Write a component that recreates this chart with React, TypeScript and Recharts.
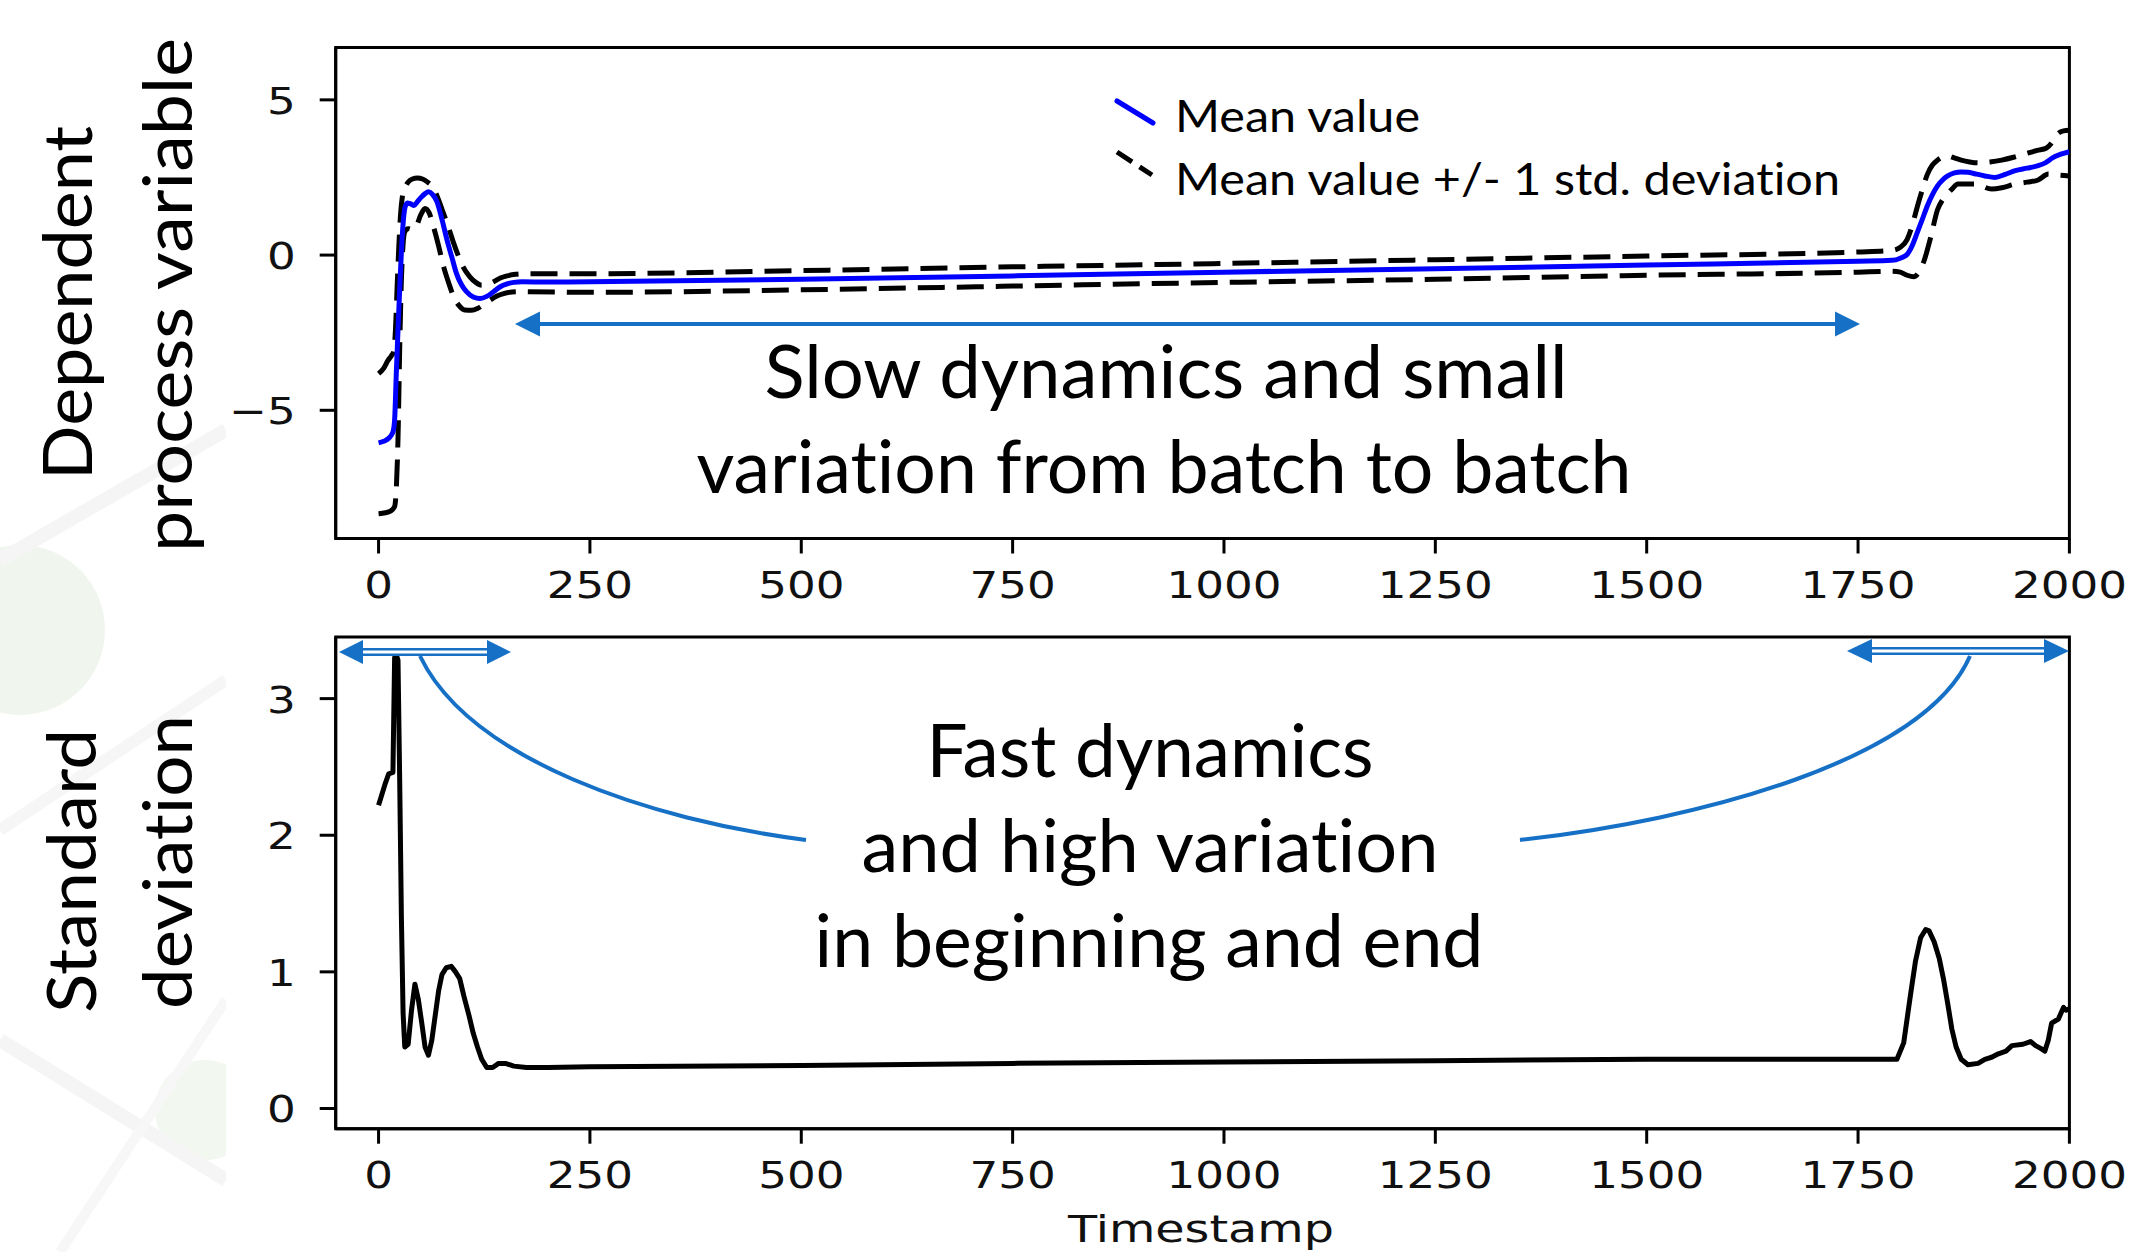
import React from "react";
import { LineChart, Line, XAxis, YAxis, ReferenceArea } from "recharts";

// ---------- data ----------
const xTicks = [0, 250, 500, 750, 1000, 1250, 1500, 1750, 2000];
const topYTicks = [-5, 0, 5];
const stdYTicks = [0, 1, 2, 3];

const meanT = [0, 6, 12, 17, 19, 21, 23, 25, 27, 29, 31, 34, 38, 42, 46, 50, 55, 59, 64, 69, 75, 81, 87, 92, 98, 104, 112, 120, 128, 136, 144, 152, 160, 170, 200, 250, 500, 750, 1000, 1250, 1500, 1750, 1790, 1800, 1808, 1814, 1820, 1826, 1832, 1838, 1844, 1850, 1856, 1864, 1872, 1880, 1888, 1900, 1912, 1924, 1936, 1950, 1963, 1972, 1980, 1990, 2000];
const meanV = [-6.05, -6.0, -5.9, -5.7, -5.3, -3.8, -2.4, -1.1, 0.1, 1.0, 1.5, 1.68, 1.65, 1.6, 1.72, 1.85, 1.98, 2.04, 1.95, 1.72, 1.15, 0.48, -0.1, -0.58, -0.95, -1.18, -1.35, -1.4, -1.33, -1.18, -1.02, -0.93, -0.88, -0.86, -0.87, -0.86, -0.78, -0.67, -0.55, -0.44, -0.32, -0.2, -0.17, -0.1, 0.02, 0.3, 0.72, 1.15, 1.59, 1.95, 2.23, 2.42, 2.55, 2.65, 2.68, 2.67, 2.62, 2.55, 2.5, 2.6, 2.72, 2.8, 2.88, 2.98, 3.13, 3.25, 3.33];

const upperT = [0, 6, 11, 15, 18, 20, 22, 24, 26, 28, 31, 35, 40, 46, 52, 58, 64, 70, 76, 82, 88, 94, 100, 108, 115, 122, 129, 136, 144, 152, 162, 175, 250, 500, 750, 1000, 1250, 1500, 1750, 1790, 1800, 1808, 1814, 1820, 1826, 1832, 1838, 1844, 1850, 1856, 1864, 1872, 1882, 1892, 1906, 1920, 1934, 1948, 1962, 1973, 1980, 1986, 1993, 2000];
const upperV = [-3.82, -3.65, -3.4, -3.25, -3.1, -2.4, -1.0, 0.3, 1.3, 1.85, 2.15, 2.35, 2.45, 2.48, 2.45, 2.35, 2.2, 1.85, 1.4, 0.95, 0.45, 0.0, -0.38, -0.7, -0.88, -0.97, -0.95, -0.86, -0.74, -0.67, -0.62, -0.6, -0.6, -0.5, -0.38, -0.27, -0.15, -0.03, 0.1, 0.15, 0.25, 0.5, 0.95, 1.55, 2.1, 2.6, 2.9, 3.06, 3.16, 3.19, 3.13, 3.06, 3.0, 2.97, 3.0, 3.06, 3.15, 3.26, 3.37, 3.45, 3.65, 3.9, 4.0, 4.02];

const lowerT = [0, 8, 14, 19, 21, 23, 25, 27, 29, 31, 35, 40, 45, 50, 55, 60, 65, 71, 77, 83, 89, 95, 102, 110, 117, 125, 132, 140, 148, 158, 170, 250, 500, 750, 1000, 1250, 1500, 1750, 1790, 1800, 1808, 1816, 1822, 1828, 1836, 1844, 1850, 1856, 1862, 1868, 1888, 1908, 1920, 1936, 1950, 1963, 1975, 1985, 2000];
const lowerV = [-8.33, -8.3, -8.25, -8.1, -7.5, -5.9, -3.0, -0.8, 0.35, 0.75, 0.85, 0.82, 0.95, 1.3, 1.5, 1.35, 0.91, 0.3, -0.38, -0.9, -1.35, -1.62, -1.77, -1.78, -1.72, -1.58, -1.45, -1.32, -1.24, -1.19, -1.18, -1.2, -1.12, -1.0, -0.88, -0.78, -0.65, -0.55, -0.52, -0.55, -0.65, -0.7, -0.55, -0.19, 0.58, 1.46, 1.78, 1.98, 2.15, 2.29, 2.29, 2.13, 2.17, 2.29, 2.35, 2.42, 2.61, 2.58, 2.55];

const stdT = [0, 4, 8, 12, 17, 19, 21, 23, 25, 27, 29, 31, 35, 39, 43, 47, 51, 55, 59, 63, 67, 71, 75, 80, 86, 91, 96, 101, 107, 112, 117, 122, 128, 135, 142, 150, 160, 175, 200, 250, 500, 750, 1000, 1250, 1500, 1750, 1796, 1804, 1812, 1818, 1824, 1830, 1834, 1840, 1846, 1851, 1856, 1861, 1866, 1872, 1880, 1892, 1900, 1908, 1916, 1925, 1932, 1945, 1954, 1960, 1966, 1971, 1975, 1979, 1987, 1993, 1996, 2000];
const stdV = [2.22, 2.3, 2.38, 2.45, 2.46, 3.3, 3.32, 3.28, 2.4, 1.4, 0.7, 0.45, 0.47, 0.72, 0.91, 0.8, 0.63, 0.45, 0.39, 0.5, 0.68, 0.86, 0.98, 1.03, 1.04, 1.0, 0.95, 0.82, 0.68, 0.55, 0.45, 0.36, 0.3, 0.3, 0.33, 0.33, 0.31, 0.3, 0.3, 0.305, 0.315, 0.33, 0.34, 0.35, 0.36, 0.36, 0.36, 0.48, 0.83, 1.08, 1.25, 1.31, 1.3, 1.22, 1.1, 0.95, 0.77, 0.58, 0.45, 0.36, 0.32, 0.33, 0.36, 0.375, 0.4, 0.42, 0.46, 0.47, 0.49, 0.46, 0.44, 0.42, 0.5, 0.625, 0.655, 0.74, 0.72, 0.73];

const legendLabels = ["Mean value", "Mean value +/- 1 std. deviation"];

const toPoints = (ts: number[], vs: number[]) => ts.map((t, i) => ({ t, v: vs[i] }));
const meanData = toPoints(meanT, meanV);
const upperData = toPoints(upperT, upperV);
const lowerData = toPoints(lowerT, lowerV);
const stdData = toPoints(stdT, stdV);

// ---------- styles ----------
const TEXT_FONT = "Lato, 'Open Sans', sans-serif";
const TICK_FONT = "'DejaVu Sans', sans-serif";
const BLUE_ANN = "#1570c6";
const NOLIG = { fontVariantLigatures: "none" as const, fontFeatureSettings: '"liga" 0, "clig" 0' };
const fmt = (v: number) => (v < 0 ? "\u2212" + Math.abs(v) : String(v));

const XTick = (props: any) => {
  const { x, y, payload } = props;
  return (
    <text transform={`translate(${x},${y + 44}) scale(1.19,1)`} textAnchor="middle" fontFamily={TICK_FONT} fontSize={38} fill="#111">
      {fmt(payload.value)}
    </text>
  );
};

const YTick = (props: any) => {
  const { x, y, payload } = props;
  return (
    <text transform={`translate(${x - 24},${y + 14}) scale(1.19,1)`} textAnchor="end" fontFamily={TICK_FONT} fontSize={38} fill="#111">
      {fmt(payload.value)}
    </text>
  );
};

const axisStroke = { stroke: "#000", strokeWidth: 3 };
const X_DOMAIN: [number, number] = [-50.7, 2000];
const TOP_Y: [number, number] = [-9.13, 6.69];
const STD_Y: [number, number] = [-0.148, 3.451];

const Arrow = ({ x1, x2, y, head = 25, half = 12.5, hollow = false }: any) => (
  <g>
    <line x1={x1 + head - 2} x2={x2 - head + 2} y1={y} y2={y} stroke={BLUE_ANN} strokeWidth={hollow ? 8 : 4} />
    {hollow && <line x1={x1 + head - 1} x2={x2 - head + 1} y1={y} y2={y} stroke="#fff" strokeWidth={3} />}
    <polygon points={`${x1},${y} ${x1 + head},${y - half} ${x1 + head},${y + half}`} fill={BLUE_ANN} />
    <polygon points={`${x2},${y} ${x2 - head},${y - half} ${x2 - head},${y + half}`} fill={BLUE_ANN} />
  </g>
);

const AnnText = ({ x, y, len, children, size = 74 }: any) => (
  <text x={x} y={y} textAnchor="middle" fontFamily={TEXT_FONT} fontSize={size} fill="#000" textLength={len} lengthAdjust="spacingAndGlyphs" style={NOLIG}>
    {children}
  </text>
);

const VText = ({ bx, cy, len, children, size = 68 }: any) => (
  <text transform={`translate(${bx},${cy}) rotate(-90)`} textAnchor="middle" fontFamily={TEXT_FONT} fontSize={size} fill="#000" textLength={len} lengthAdjust="spacingAndGlyphs" style={NOLIG}>
    {children}
  </text>
);

export default function App() {
  return (
    <div style={{ position: "absolute", left: 0, top: 0, width: 2133, height: 1252, background: "#fff", overflow: "hidden" }}>
      {/* faint slide decoration on the left */}
      <svg width={2133} height={1252} style={{ position: "absolute", left: 0, top: 0 }}>
        <defs>
          <clipPath id="decoClip">
            <rect x={0} y={410} width={226} height={842} />
          </clipPath>
        </defs>
        <g clipPath="url(#decoClip)" opacity={0.4}>
          <circle cx={20} cy={630} r={85} fill="#dcebd3" />
          <circle cx={205} cy={1110} r={50} fill="#e0ecd8" />
          <line x1={0} y1={560} x2={226} y2={430} stroke="#e8e8e8" strokeWidth={14} />
          <line x1={0} y1={830} x2={226} y2={680} stroke="#ebebeb" strokeWidth={12} />
          <line x1={0} y1={1040} x2={226} y2={1180} stroke="#e8e8e8" strokeWidth={14} />
          <line x1={60} y1={1252} x2={226} y2={1000} stroke="#ededed" strokeWidth={10} />
        </g>
      </svg>

      {/* top chart */}
      <div style={{ position: "absolute", left: 0, top: 0 }}>
        <LineChart width={2133} height={620} margin={{ top: 47.4, right: 63.6, left: 0, bottom: 0 }}>
          <XAxis xAxisId="b" type="number" dataKey="t" domain={X_DOMAIN} ticks={xTicks} allowDataOverflow height={81.5}
            axisLine={axisStroke} tickLine={axisStroke} tickSize={15} tickMargin={0} tick={<XTick />} interval={0} />
          <YAxis yAxisId="l" type="number" domain={TOP_Y} ticks={topYTicks} allowDataOverflow width={335.7}
            axisLine={axisStroke} tickLine={axisStroke} tickSize={16} tickMargin={0} tick={<YTick />} interval={0} />
          <ReferenceArea xAxisId="b" yAxisId="l" x1={X_DOMAIN[0]} x2={X_DOMAIN[1]} y1={TOP_Y[0]} y2={TOP_Y[1]}
            fill="none" fillOpacity={0} stroke="#000" strokeWidth={3} ifOverflow="visible" />
          <Line xAxisId="b" yAxisId="l" data={upperData} dataKey="v" type="monotone" stroke="#000" strokeWidth={5}
            strokeDasharray="27 12" dot={false} isAnimationActive={false} />
          <Line xAxisId="b" yAxisId="l" data={lowerData} dataKey="v" type="monotone" stroke="#000" strokeWidth={5}
            strokeDasharray="27 12" dot={false} isAnimationActive={false} />
          <Line xAxisId="b" yAxisId="l" data={meanData} dataKey="v" type="monotone" stroke="#0000ff" strokeWidth={5}
            dot={false} isAnimationActive={false} />
        </LineChart>
      </div>

      {/* bottom chart */}
      <div style={{ position: "absolute", left: 0, top: 600 }}>
        <LineChart width={2133} height={652} margin={{ top: 37, right: 63.6, left: 0, bottom: 0 }}>
          <XAxis xAxisId="b" type="number" dataKey="t" domain={X_DOMAIN} ticks={xTicks} allowDataOverflow height={123.3}
            axisLine={axisStroke} tickLine={axisStroke} tickSize={15} tickMargin={0} tick={<XTick />} interval={0} />
          <YAxis yAxisId="l" type="number" domain={STD_Y} ticks={stdYTicks} allowDataOverflow width={335.7}
            axisLine={axisStroke} tickLine={axisStroke} tickSize={16} tickMargin={0} tick={<YTick />} interval={0} />
          <ReferenceArea xAxisId="b" yAxisId="l" x1={X_DOMAIN[0]} x2={X_DOMAIN[1]} y1={STD_Y[0]} y2={STD_Y[1]}
            fill="none" fillOpacity={0} stroke="#000" strokeWidth={3} ifOverflow="visible" />
          <Line xAxisId="b" yAxisId="l" data={stdData} dataKey="v" type="linear" stroke="#000" strokeWidth={5}
            strokeLinejoin="round" dot={false} isAnimationActive={false} />
        </LineChart>
      </div>

      {/* annotations overlay */}
      <svg width={2133} height={1252} style={{ position: "absolute", left: 0, top: 0, pointerEvents: "none" }}>
        {/* axis titles */}
        <VText bx={91.5} cy={303} len={354}>Dependent</VText>
        <VText bx={192} cy={295} len={514}>process variable</VText>
        <VText bx={96} cy={871} len={284}>Standard</VText>
        <VText bx={192} cy={862} len={294}>deviation</VText>
        <text x={1201} y={1242} textAnchor="middle" fontFamily={TICK_FONT} fontSize={38} fill="#111" textLength={266} lengthAdjust="spacingAndGlyphs">Timestamp</text>

        {/* legend */}
        <line x1={1117} y1={101} x2={1153} y2={123} stroke="#0000ff" strokeWidth={5} strokeLinecap="round" />
        <line x1={1117} y1={152} x2={1152} y2={175} stroke="#000" strokeWidth={5} strokeDasharray="18 9" />
        <text x={1175} y={132} fontFamily={TEXT_FONT} fontSize={45} fill="#000" textLength={245} lengthAdjust="spacingAndGlyphs" style={NOLIG}>{legendLabels[0]}</text>
        <text x={1175} y={195} fontFamily={TEXT_FONT} fontSize={45} fill="#000" textLength={665} lengthAdjust="spacingAndGlyphs" style={NOLIG}>{legendLabels[1]}</text>

        {/* top annotation */}
        <Arrow x1={515} x2={1860} y={324} />
        <AnnText x={1166} y={398} len={803}>Slow dynamics and small</AnnText>
        <AnnText x={1164} y={493} len={935}>variation from batch to batch</AnnText>

        {/* bottom annotation */}
        <Arrow x1={339} x2={511} y={652} head={24} half={12} hollow />
        <Arrow x1={1847} x2={2069} y={651} head={25} half={12} hollow />
        <path d="M420,656 C470,760 650,820 806,840" fill="none" stroke={BLUE_ANN} strokeWidth={4} />
        <path d="M1970,656 C1925,760 1700,820 1520,840" fill="none" stroke={BLUE_ANN} strokeWidth={4} />
        <AnnText x={1150} y={777} len={447}>Fast dynamics</AnnText>
        <AnnText x={1150} y={872} len={577}>and high variation</AnnText>
        <AnnText x={1149} y={967} len={669}>in beginning and end</AnnText>
      </svg>
    </div>
  );
}
